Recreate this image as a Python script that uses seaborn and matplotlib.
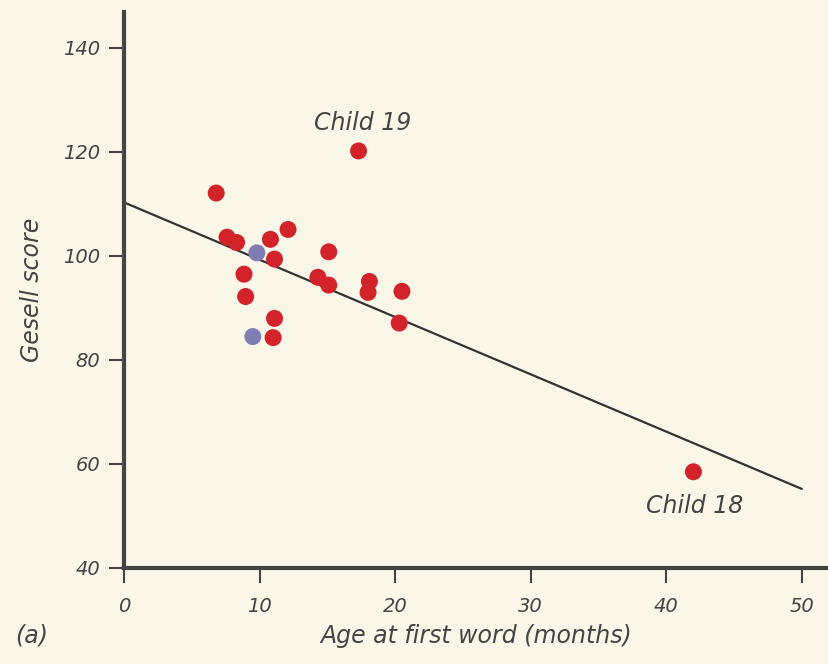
import matplotlib
matplotlib.use("Agg")
import matplotlib.pyplot as plt
import seaborn as sns
import pandas as pd
import numpy as np

# Data
age = [6.8, 7.6, 8.3, 9.8, 10.8, 12.1, 11.1, 8.85, 8.97, 11.1, 11.0, 9.5,
       15.1, 14.3, 15.1, 18.1, 18.0, 20.5, 20.3, 17.3, 42.0]
score = [112.1, 103.6, 102.6, 100.6, 103.2, 105.1, 99.4, 96.5, 92.2, 88.0, 84.3, 84.5,
         100.8, 95.9, 94.4, 95.1, 93.0, 93.2, 87.1, 120.2, 58.5]
group = ["red", "red", "red", "blue", "red", "red", "red", "red", "red", "red", "red", "blue",
         "red", "red", "red", "red", "red", "red", "red", "red", "red"]

fit_x = [0, 50]
fit_y = [110.3, 55.2]

x_ticks = [0, 10, 20, 30, 40, 50]
y_ticks = [40, 60, 80, 100, 120, 140]

labels = ["Child 19", "Child 18"]
label_pos = [(17.6, 125.5), (42.1, 52.0)]

df = pd.DataFrame({"age": age, "score": score, "group": group})
fit = pd.DataFrame({"x": fit_x, "y": fit_y})

sns.set_theme(style="white")
bg = "#FBF7E8"
ink = "#444444"
plt.rcParams['font.family'] = ['Liberation Sans Narrow', 'DejaVu Sans']

fig = plt.figure(figsize=(8.29, 6.64), dpi=100, facecolor=bg)
ax = fig.add_axes([0.1496, 0.1446, 0.8504, 0.838])
ax.set_facecolor(bg)

sns.lineplot(data=fit, x="x", y="y", ax=ax, color="#333333", linewidth=1.6)
sns.scatterplot(data=df, x="age", y="score", hue="group",
                palette={"red": "#D2232A", "blue": "#7F7DB3"},
                s=150, edgecolor="none", ax=ax, legend=False, zorder=3)

ax.set_xlim(0, 52)
ax.set_ylim(40, 147)
for side in ["top", "right"]:
    ax.spines[side].set_visible(False)
for side in ["left", "bottom"]:
    ax.spines[side].set_color(ink)
    ax.spines[side].set_linewidth(3)

ax.set_xticks(x_ticks)
ax.set_yticks(y_ticks)
ax.tick_params(axis="both", direction="out", length=11, width=1.5, color=ink,
               labelcolor=ink, labelsize=14, pad=6, bottom=True, left=True)
for t in ax.get_xticklabels() + ax.get_yticklabels():
    t.set_fontstyle("italic")
ax.tick_params(axis="x", pad=10)

ax.set_xlabel("Age at first word (months)", fontsize=17, color=ink, fontstyle="italic", labelpad=6)
ax.set_ylabel("Gesell score", fontsize=17, color=ink, fontstyle="italic", labelpad=14)

for txt, (px, py) in zip(labels, label_pos):
    ax.text(px, py, txt, fontsize=17, color=ink, fontstyle="italic", ha="center", va="center")

fig.text(15 / 829, 1 - 636 / 664, "(a)", fontsize=17, color=ink, fontstyle="italic",
         ha="left", va="center")

fig.savefig("out.png", dpi=100, facecolor=bg)
